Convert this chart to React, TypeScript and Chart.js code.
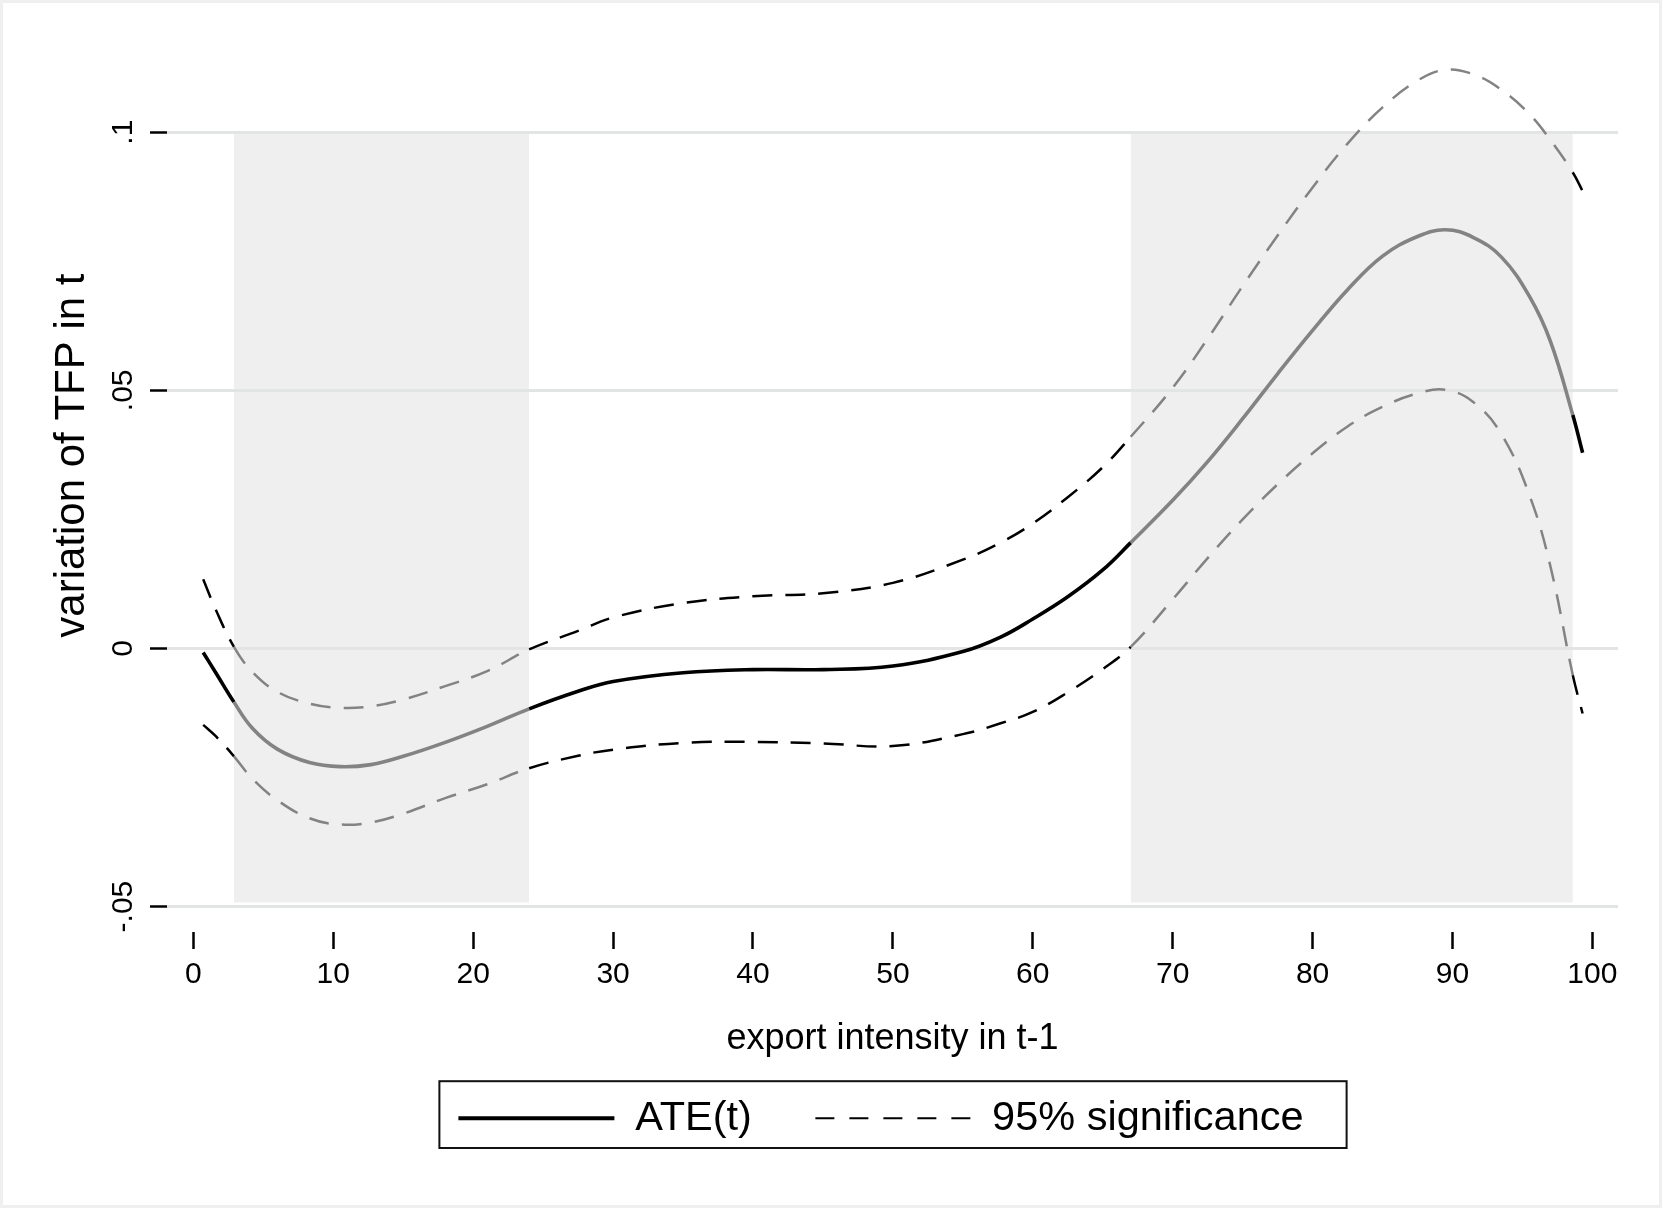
import React, { useEffect, useRef } from "react";
import { Chart, registerables } from "chart.js";

Chart.register(...registerables);

const FONT = "'Liberation Sans', Arial, Helvetica, sans-serif";

// export intensity in t-1 (x positions where the curves were read)
const X_VALUES = [0.7, 1.6, 2.9, 4.2, 6, 8.3, 10.5, 12.7, 15, 18, 21, 24, 27.5, 30, 35, 40, 45, 50, 55, 57.7, 60, 62.5, 65, 67, 70, 72.5, 75, 77.5, 80, 82.5, 85, 87.5, 89.5, 91.5, 93.5, 95.5, 97, 98.6, 99.3];
// ATE(t)
const ATE = [-0.0008, -0.0047, -0.0104, -0.0154, -0.0195, -0.0221, -0.0229, -0.0225, -0.0209, -0.0182, -0.0151, -0.0117, -0.0083, -0.0064, -0.0047, -0.0041, -0.0041, -0.0034, -0.0006, 0.0022, 0.0057, 0.01, 0.0152, 0.0205, 0.0287, 0.0362, 0.0445, 0.0532, 0.0616, 0.0695, 0.076, 0.0798, 0.0811, 0.0796, 0.0758, 0.0682, 0.0595, 0.0452, 0.0379];
// upper 95% band
const UPPER = [0.0134, 0.0075, 0.0003, -0.0045, -0.0084, -0.0107, -0.0115, -0.0112, -0.0099, -0.0073, -0.0044, -0.0002, 0.0034, 0.006, 0.0088, 0.0101, 0.0107, 0.0127, 0.0172, 0.0205, 0.0242, 0.0293, 0.0351, 0.041, 0.0505, 0.06, 0.0702, 0.08, 0.0893, 0.0978, 0.1048, 0.11, 0.1121, 0.1112, 0.1082, 0.1035, 0.0985, 0.0922, 0.0886];
// lower 95% band
const LOWER = [-0.0148, -0.017, -0.0209, -0.0252, -0.0294, -0.0329, -0.0341, -0.0337, -0.032, -0.029, -0.0263, -0.0232, -0.0208, -0.0196, -0.0183, -0.0181, -0.0184, -0.0189, -0.0166, -0.0145, -0.0123, -0.0085, -0.004, 0.0003, 0.0095, 0.0175, 0.025, 0.0318, 0.0378, 0.043, 0.0468, 0.0494, 0.0501, 0.0477, 0.0415, 0.0297, 0.0159, -0.0052, -0.0126];

// shaded (significant) ranges
const SHADE_START = [2.9, 67];
const SHADE_END = [24, 98.6];
const SHADE_TOP = 0.1;
const SHADE_BOTTOM = -0.0492;

const X_TICKS = [0, 10, 20, 30, 40, 50, 60, 70, 80, 90, 100];
const Y_TICKS = [-0.05, 0, 0.05, 0.1];
const Y_TICK_LABELS = ["-.05", "0", ".05", ".1"];
const X_MIN = -1.887;
const X_MAX = 101.83;
const Y_MIN = -0.05051;
const Y_MAX = 0.12522;

const X_TITLE = "export intensity in t-1";
const Y_TITLE = "variation of TFP in t";
const LEGEND_LABELS = ["ATE(t)", "95% significance"];

const BLACK = "#000000";
const GRAY = "#838383";
const SHADE_COLOR = "#eeefee";
const GRID_COLOR = "#e3e4e4";

const inShade = (x: number) => SHADE_START.some((s, i) => x >= s && x <= SHADE_END[i]);
const segColor = (ctx: any) => (inShade((ctx.p0.parsed.x + ctx.p1.parsed.x) / 2) ? GRAY : BLACK);

const toPoints = (ys: number[]) => X_VALUES.map((x, i) => ({ x, y: ys[i] }));

const shadePoints = () => {
  const pts: { x: number; y: number | null }[] = [];
  SHADE_START.forEach((s, i) => {
    if (i > 0) pts.push({ x: (SHADE_END[i - 1] + s) / 2, y: null });
    pts.push({ x: s, y: SHADE_TOP });
    pts.push({ x: SHADE_END[i], y: SHADE_TOP });
  });
  return pts;
};

const legendFrame = {
  id: "legendFrame",
  afterDraw(chart: any) {
    const lg = chart.legend;
    if (!lg || !lg.legendHitBoxes || lg.legendHitBoxes.length < 2) return;
    const hb = lg.legendHitBoxes;
    const last = hb[hb.length - 1];
    const left = hb[0].left - 19;
    const right = last.left + last.width + 20;
    const ctx = chart.ctx;
    ctx.save();
    ctx.strokeStyle = "#111111";
    ctx.lineWidth = 2;
    ctx.setLineDash([]);
    ctx.strokeRect(left, lg.top + 1, right - left, lg.bottom - lg.top - 2);
    ctx.restore();
  },
};

export default function App() {
  const ref = useRef<HTMLCanvasElement>(null);

  useEffect(() => {
    if (!ref.current) return;
    const lineBase = {
      type: "line" as const,
      pointRadius: 0,
      pointHoverRadius: 0,
      fill: false,
      tension: 0.4,
      segment: { borderColor: segColor },
    };
    const chart = new Chart(ref.current, {
      type: "line",
      data: {
        datasets: [
          {
            type: "line",
            label: "shade",
            data: shadePoints(),
            borderWidth: 0,
            pointRadius: 0,
            backgroundColor: SHADE_COLOR,
            borderColor: "rgba(0,0,0,0)",
            fill: { value: SHADE_BOTTOM },
            spanGaps: false,
            tension: 0,
          } as any,
          { ...lineBase, label: "upper", data: toPoints(UPPER), borderWidth: 2.5, borderDash: [20, 13], borderColor: BLACK } as any,
          { ...lineBase, label: "lower", data: toPoints(LOWER), borderWidth: 2.5, borderDash: [20, 13], borderColor: BLACK } as any,
          { ...lineBase, label: "ATE", data: toPoints(ATE), borderWidth: 3.6, borderColor: BLACK } as any,
        ],
      },
      options: {
        animation: false,
        responsive: false,
        maintainAspectRatio: false,
        events: [],
        layout: { padding: { left: 8, right: 44, top: 2, bottom: 59 } },
        plugins: {
          filler: { drawTime: "beforeDraw" },
          tooltip: { enabled: false },
          title: { display: false },
          legend: {
            display: true,
            position: "bottom",
            align: "center",
            fullSize: false,
            labels: {
              usePointStyle: true,
              pointStyleWidth: 156,
              padding: 17.3,
              color: BLACK,
              font: { family: FONT, size: 41.5 },
              generateLabels: () => [
                {
                  text: LEGEND_LABELS[0] + "    ",
                  fillStyle: BLACK,
                  strokeStyle: BLACK,
                  lineWidth: 4,
                  lineDash: [],
                  pointStyle: "line",
                  hidden: false,
                  datasetIndex: 3,
                  fontColor: BLACK,
                } as any,
                {
                  text: LEGEND_LABELS[1] + "  ",
                  fillStyle: BLACK,
                  strokeStyle: BLACK,
                  lineWidth: 2.2,
                  lineDash: [19, 15],
                  pointStyle: "line",
                  hidden: false,
                  datasetIndex: 1,
                  fontColor: BLACK,
                } as any,
              ],
            },
          },
        },
        scales: {
          x: {
            type: "linear",
            min: X_MIN,
            max: X_MAX,
            bounds: "data",
            afterBuildTicks: (s: any) => {
              s.ticks = X_TICKS.map((v) => ({ value: v }));
            },
            grid: {
              drawOnChartArea: false,
              drawTicks: true,
              tickLength: 40,
              tickBorderDash: [0, 23, 17, 1000],
              tickWidth: 2.5,
              tickColor: BLACK,
              color: BLACK,
            },
            border: { display: false },
            ticks: {
              autoSkip: false,
              maxRotation: 0,
              minRotation: 0,
              padding: 8,
              color: BLACK,
              font: { family: FONT, size: 30 },
              callback: (v: any) => String(v),
            },
            title: {
              display: true,
              text: X_TITLE,
              color: BLACK,
              font: { family: FONT, size: 36 },
              padding: { top: 16.4, bottom: 19.4 },
            },
          },
          y: {
            type: "linear",
            min: Y_MIN,
            max: Y_MAX,
            bounds: "data",
            afterBuildTicks: (s: any) => {
              s.ticks = Y_TICKS.map((v) => ({ value: v }));
            },
            grid: {
              color: GRID_COLOR,
              lineWidth: 3,
              drawTicks: true,
              tickLength: 17,
              tickWidth: 2.5,
              tickColor: BLACK,
            },
            border: { display: false },
            ticks: {
              autoSkip: false,
              minRotation: 90,
              maxRotation: 90,
              crossAlign: "center",
              padding: 0,
              color: BLACK,
              font: { family: FONT, size: 30, lineHeight: 0.1 },
              callback: (v: any) => {
                const i = Y_TICKS.indexOf(Number(v));
                return i >= 0 ? Y_TICK_LABELS[i] : "";
              },
            },
            title: {
              display: true,
              text: Y_TITLE,
              color: BLACK,
              font: { family: FONT, size: 42 },
              padding: { top: 39.3, bottom: 49.3 },
            },
          },
        },
      } as any,
      plugins: [legendFrame],
    });
    return () => chart.destroy();
  }, []);

  return (
    <div
      style={{
        position: "absolute",
        left: 0,
        top: 0,
        width: 1662,
        height: 1208,
        background: "#ffffff",
        overflow: "hidden",
      }}
    >
      <canvas
        ref={ref}
        width={1662}
        height={1208}
        style={{ display: "block", width: "1662px", height: "1208px" }}
      />
      <div
        style={{
          position: "absolute",
          left: 0,
          top: 0,
          width: 1662,
          height: 1208,
          border: "3px solid #efefef",
          boxSizing: "border-box",
          pointerEvents: "none",
        }}
      />
    </div>
  );
}
